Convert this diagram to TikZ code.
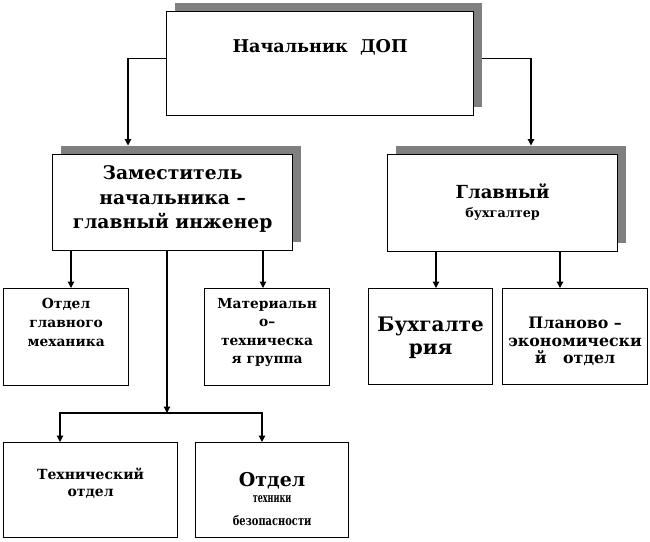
\documentclass[tikz,border=0pt]{standalone}
\usepackage{fontspec}
\setmainfont{DejaVu Serif}
\usetikzlibrary{arrows.meta,shadows,backgrounds}
\definecolor{shadowgray}{HTML}{808080}
\newcommand{\fsz}[2]{\fontsize{#1}{#2}\selectfont}
\begin{document}
\begin{tikzpicture}[x=1pt,y=-1pt,
  box/.style={draw=black, line width=1.2pt, fill=white, rectangle, inner sep=0pt, anchor=north west},
  shbox/.style={box, copy shadow={shadow xshift=8.5pt, shadow yshift=8.5pt, fill=shadowgray, draw=none}},
  txt/.style={align=center, inner sep=0pt},
  arr/.style={line width=1.2pt, -{Triangle[width=6.5pt,length=6.5pt]}}]
\useasboundingbox (0,0) rectangle (650,541);
% boxes
\node[shbox, minimum width=307pt, minimum height=104pt] (top) at (166,11) {};
\node[shbox, minimum width=240pt, minimum height=96pt] (l2l) at (52,154) {};
\node[shbox, minimum width=230pt, minimum height=97pt] (l2r) at (387,154) {};
\node[box, minimum width=125pt, minimum height=97pt] (b1) at (3,288) {};
\node[box, minimum width=125pt, minimum height=97pt] (mat) at (204,288) {};
\node[box, minimum width=124pt, minimum height=96pt] (buh) at (368,288) {};
\node[box, minimum width=145pt, minimum height=96pt] (plan) at (502,288) {};
\node[box, minimum width=174pt, minimum height=95pt] (tech) at (3,442) {};
\node[box, minimum width=153pt, minimum height=95pt] (otb) at (195,442) {};
% texts
\node[txt, font=\bfseries\fsz{17.6}{24}] (topT) at ([yshift=16pt]top.center) {Начальник\ \ ДОП};
\node[txt, font=\bfseries\fsz{18.7}{24.5}] (l2lT) at ([yshift=3.5pt]l2l.center) {Заместитель\\начальника –\\главный инженер};
\node[txt, font=\bfseries\fsz{18}{19}] (l2rT) at ([yshift=1.5pt]l2r.center) {Главный\\{\fsz{12.8}{19}бухгалтер}};
\node[txt, font=\bfseries\fsz{13.8}{19}] (b1T) at ([yshift=15pt]b1.center) {Отдел\\главного\\механика};
\node[txt, font=\bfseries\fsz{13.8}{18.5}] (matT) at ([yshift=4.5pt]mat.center) {Материальн\\о–\\техническа\\я группа};
\node[txt, font=\bfseries\fsz{20}{23}] (buhT) at ([yshift=-1pt]buh.center) {Бухгалте\\рия};
\node[txt, font=\bfseries\fsz{15.8}{17.5}] (planT) at ([yshift=-5pt]plan.center) {Планово –\\экономически\\й\ \ \ отдел};
\node[txt, font=\bfseries\fsz{14}{17}] (techT) at ([yshift=7pt]tech.center) {Технический\\отдел};
\node[txt, font=\bfseries\fsz{19}{16}] (otbT) at ([yshift=-9pt]otb.center) {Отдел\\{\fsz{13}{16}\addfontfeatures{FakeStretch=0.62}техники}\\[7pt]{\fsz{13}{16}\addfontfeatures{FakeStretch=0.76}безопасности}};
% connectors
\begin{scope}[on background layer]
\coordinate (a1) at (128,145.5);
\coordinate (a2) at (531,145.5);
\coordinate (x71) at (71,0);
\coordinate (x263) at (263,0);
\coordinate (x436) at (436,0);
\coordinate (x560) at (560,0);
\coordinate (x60) at (60,0);
\coordinate (x262) at (262,0);
\coordinate (hub) at (167,413);
\draw[arr] ([yshift=5pt]top.west) -| (a1);
\draw[arr] ([yshift=5pt]top.east) -| (a2);
\draw[arr] (l2l.south -| x71) -- (b1.north -| x71);
\draw[arr] (l2l.south -| x263) -- (mat.north -| x263);
\draw[arr] (l2l.south -| hub) -- (hub);
\draw[arr] (hub) -| (tech.north -| x60);
\draw[arr] (hub) -| (otb.north -| x262);
\draw[arr] (l2r.south -| x436) -- (buh.north -| x436);
\draw[arr] (l2r.south -| x560) -- (plan.north -| x560);
\end{scope}
\end{tikzpicture}
\end{document}
